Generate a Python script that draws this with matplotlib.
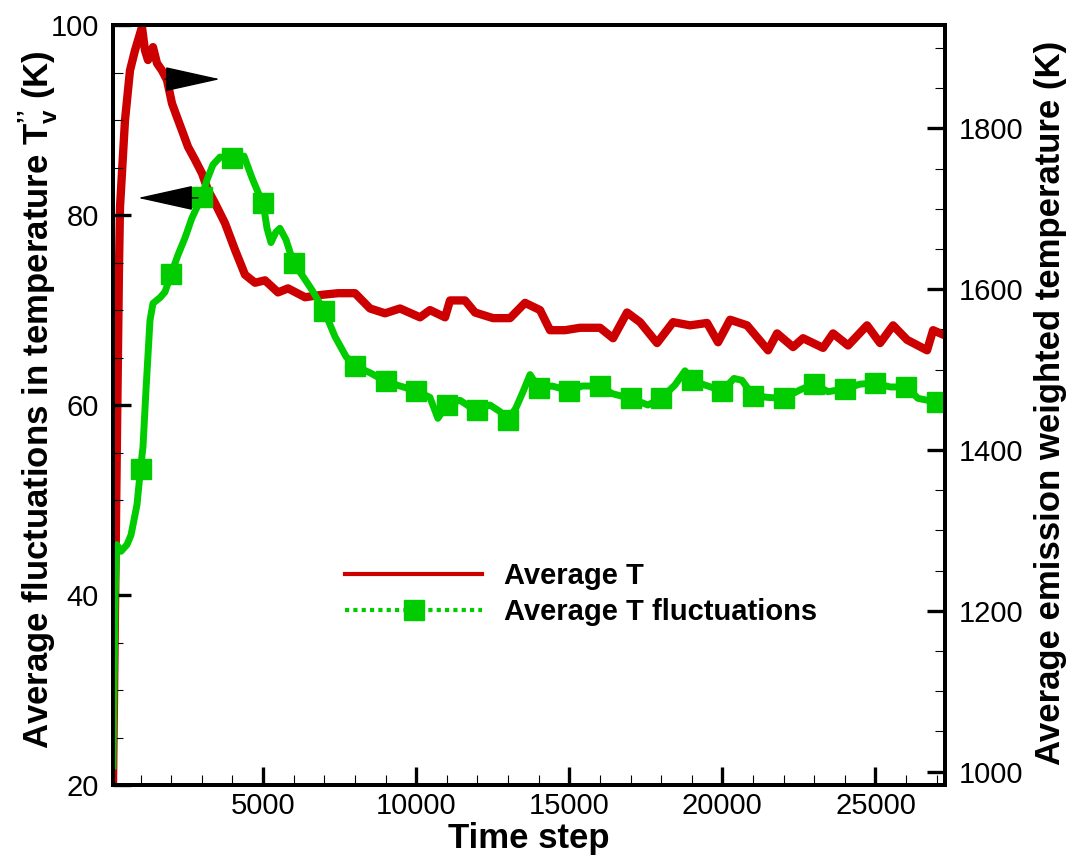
import matplotlib
matplotlib.use('Agg')
import matplotlib.pyplot as plt
from matplotlib.lines import Line2D
from matplotlib.ticker import MultipleLocator

# green: average T fluctuations (left axis, K)
fluct_steps = [100, 170, 220, 361, 557, 688, 786, 884,
               1000, 1080, 1178, 1308, 1406, 1635, 1798,
               2000, 2223, 2452, 2680, 3000, 3170, 3366, 3595,
               4000, 4380, 4640, 4836, 5000, 5130, 5260, 5420, 5550, 5750,
               6000, 6270, 6600, 7000, 7350, 7710, 8000, 8490, 9000, 9470,
               10000, 10450, 10710, 11000, 11430, 11760, 12000, 12410, 12740,
               13000, 13260, 13490, 13720, 14000, 14440, 15000, 15420,
               16000, 16400, 17000, 17570, 18000, 18450, 18780, 19000, 19430,
               20000, 20380, 20640, 21000, 21490, 22000, 22540, 23000, 23450,
               24000, 24500, 25000, 25480, 26000, 26390, 27000, 27240]
fluct_vals = [22.0, 40.0, 45.3, 44.6, 45.3, 46.3, 47.9, 49.5,
              53.3, 55.6, 61.6, 68.9, 70.7, 71.3, 71.9,
              73.8, 75.8, 77.6, 79.7, 81.9, 83.7, 85.3, 86.1,
              86.0, 86.2, 83.9, 82.4, 81.3, 78.6, 77.1, 78.2, 78.6, 77.4,
              74.9, 73.7, 72.1, 69.9, 67.2, 65.1, 64.1, 63.4, 62.5, 62.0,
              61.5, 60.8, 58.6, 60.0, 60.5, 59.8, 59.5, 60.0, 59.3,
              58.4, 59.7, 61.4, 63.2, 61.8, 62.0, 61.5, 62.0,
              62.0, 61.2, 60.7, 60.0, 60.7, 62.1, 63.6, 62.6, 62.1,
              61.5, 62.8, 62.6, 61.0, 60.8, 60.7, 61.6, 62.2, 61.4,
              61.7, 62.2, 62.3, 61.9, 61.9, 60.7, 60.3, 60.5]

# red: average emission weighted temperature (right axis, K)
temp_steps = [100, 231, 296, 329, 492, 655, 819, 1047, 1145, 1243, 1406,
              1537, 1700, 1864, 2027, 2190, 2386, 2550, 2778, 3007, 3203,
              3431, 3758, 4084, 4411, 4738, 5064, 5489, 5816, 6371, 6926,
              7449, 8004, 8494, 8984, 9473, 10127, 10453, 10943, 11106,
              11596, 11923, 12511, 13066, 13556, 14046, 14372, 14862, 15352,
              16005, 16430, 16887, 17312, 17867, 18390, 18945, 19500, 19859,
              20251, 20807, 21492, 21786, 22309, 22635, 23289, 23615, 24105,
              24725, 25150, 25575, 26032, 26685, 26881, 27240]
temp_vals = [983, 1421, 1627, 1702, 1810, 1872, 1897, 1926, 1897, 1885, 1901,
             1881, 1872, 1860, 1831, 1814, 1794, 1777, 1761, 1744, 1723,
             1707, 1682, 1649, 1618, 1608, 1611, 1596, 1601, 1590, 1593,
             1595, 1595, 1576, 1570, 1576, 1565, 1574, 1565, 1586,
             1586, 1571, 1564, 1564, 1583, 1574, 1549, 1549, 1552,
             1552, 1539, 1571, 1559, 1533, 1559, 1555, 1558, 1534,
             1562, 1555, 1524, 1545, 1528, 1539, 1527, 1545, 1530,
             1555, 1533, 1555, 1537, 1524, 1549, 1543]

legend_labels = ['Average T', 'Average T fluctuations']

red = '#CC0000'
green = '#00CC00'

plt.rcParams['font.family'] = ['Liberation Sans', 'DejaVu Sans']
plt.rcParams['mathtext.fontset'] = 'custom'
plt.rcParams['mathtext.rm'] = 'Liberation Sans:bold'
plt.rcParams['mathtext.bf'] = 'Liberation Sans:bold'
plt.rcParams['mathtext.it'] = 'Liberation Sans:bold'

fig = plt.figure(figsize=(10.73, 8.6), dpi=100)
ax = fig.add_axes([0.1053, 0.0872, 0.7754, 0.8837])
ax2 = ax.twinx()

marks = [i for i, s in enumerate(fluct_steps) if s % 1000 == 0]
ax.plot(fluct_steps, fluct_vals, color=green, lw=5,
        marker='s', markersize=14, markevery=marks)
ax2.plot(temp_steps, temp_vals, color=red, lw=6)

# green on top of red
ax.set_zorder(ax2.get_zorder() + 1)
ax.patch.set_visible(False)

ax.set_xlim(100, 27270)
ax.set_ylim(20, 100)
ax2.set_ylim(983.4, 1928.5)

ax.xaxis.set_major_locator(MultipleLocator(5000))
ax.xaxis.set_minor_locator(MultipleLocator(1000))
ax.yaxis.set_major_locator(MultipleLocator(20))
ax.yaxis.set_minor_locator(MultipleLocator(5))
ax2.yaxis.set_major_locator(MultipleLocator(200))
ax2.yaxis.set_minor_locator(MultipleLocator(50))

for a in (ax, ax2):
    for sp in a.spines.values():
        sp.set_linewidth(2.8)
ax.tick_params(which='both', direction='in', top=False, right=False, labelsize=21)
ax.tick_params(which='major', length=13, width=2.4)
ax.tick_params(which='minor', length=7.5, width=0.8)
ax.tick_params(axis='y', pad=10)
ax.tick_params(axis='x', pad=5)
ax2.tick_params(which='both', direction='in', labelsize=21, pad=10)
ax2.tick_params(which='major', length=13, width=2.4)
ax2.tick_params(which='minor', length=7.5, width=0.8)

# arrows showing which axis each curve belongs to
ax.annotate('', xy=(3595, 94.3), xytext=(1798, 94.3),
            arrowprops=dict(arrowstyle='-|>,head_length=3.6,head_width=0.8',
                            mutation_scale=10, color='black', lw=1,
                            shrinkA=0, shrinkB=0))
ax.annotate('', xy=(917, 81.8), xytext=(2876, 81.8),
            arrowprops=dict(arrowstyle='-|>,head_length=3.6,head_width=0.8',
                            mutation_scale=10, color='black', lw=1,
                            shrinkA=0, shrinkB=0))

handles = [Line2D([], [], color=red, lw=3),
           Line2D([], [], color=green, lw=3, linestyle=(0, (1, 1)),
                  marker='s', markersize=14)]
leg = ax.legend(handles, legend_labels, loc='center left',
                bbox_to_anchor=(0.279, 0.251), frameon=False,
                borderaxespad=0, borderpad=0, handlelength=4.7,
                handletextpad=0.75, labelspacing=0.28,
                prop={'size': 21, 'weight': 'bold'})

fig.text(0.4925, 0.014, 'Time step', ha='center', va='baseline',
         fontsize=25, fontweight='bold')
fig.text(0.0354, 0.535, "Average fluctuations in temperature T$^{\u2019\u2019}_{v}$ (K)",
         rotation=90, ha='center', va='center', fontsize=25, fontweight='bold')
fig.text(0.979, 0.531, 'Average emission weighted temperature (K)',
         rotation=90, ha='center', va='center', fontsize=25, fontweight='bold')

fig.savefig('out.png', dpi=100)
